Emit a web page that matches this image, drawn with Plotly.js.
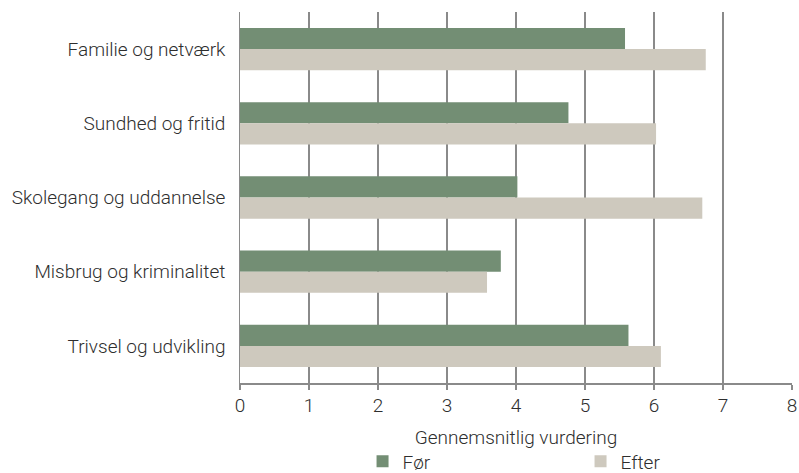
<!DOCTYPE html>
<html>
<head>
<meta charset="utf-8">
<script src="https://cdn.plot.ly/plotly-3.0.1.min.js"></script>
<style>html,body{margin:0;padding:0;background:#fff;}#chart{width:799px;height:473px;}</style>
</head>
<body>
<div id="chart"></div>
<script>
const categories = ["Familie og netværk", "Sundhed og fritid", "Skolegang og uddannelse", "Misbrug og kriminalitet", "Trivsel og udvikling"];
const forValues = [5.58, 4.76, 4.02, 3.78, 5.63];
const efterValues = [6.75, 6.03, 6.70, 3.58, 6.10];
const seriesNames = ["Før", "Efter"];
const xTicks = [0, 1, 2, 3, 4, 5, 6, 7, 8];

const fam = "Roboto, 'DejaVu Sans', sans-serif";
const txt = "#2e2e2e";

const traces = [
  {type: "bar", orientation: "h", name: seriesNames[0], y: categories, x: forValues,
   marker: {color: "#738E74"}},
  {type: "bar", orientation: "h", name: seriesNames[1], y: categories, x: efterValues,
   marker: {color: "#CEC9BE"}}
];

const layout = {
  width: 799, height: 473,
  margin: {l: 240, r: 7, t: 12, b: 90, pad: 0, autoexpand: false},
  paper_bgcolor: "#ffffff", plot_bgcolor: "#ffffff",
  font: {family: fam, size: 19, color: txt, weight: 300},
  barmode: "group",
  bargap: 0.43,
  bargroupgap: 0,
  showlegend: true,
  legend: {orientation: "h", x: 0.222, xanchor: "left", y: -0.16, yanchor: "top",
           entrywidth: 173, entrywidthmode: "pixels", itemwidth: 30,
           font: {family: fam, size: 19, color: txt, weight: 300}},
  xaxis: {
    range: [0, 8], tickvals: xTicks, ticktext: xTicks.map(String),
    showgrid: true, gridcolor: "#8a8a8a", gridwidth: 1.5,
    showline: true, linecolor: "#8a8a8a", linewidth: 1.5,
    ticks: "outside", ticklen: 5, tickcolor: "#8a8a8a", tickwidth: 1.5,
    tickfont: {family: fam, size: 19, color: txt, weight: 300},
    zeroline: false,
    title: {text: "Gennemsnitlig vurdering", standoff: 14,
            font: {family: fam, size: 19, color: txt, weight: 300}},
    automargin: false,
    fixedrange: true
  },
  yaxis: {
    type: "category", autorange: "reversed",
    showgrid: false, showline: true, linecolor: "#8a8a8a", linewidth: 1.5,
    ticks: "", ticksuffix: "  ",
    tickfont: {family: fam, size: 19, color: txt, weight: 300},
    automargin: false,
    fixedrange: true
  }
};

Plotly.newPlot("chart", traces, layout, {displayModeBar: false, staticPlot: true});
</script>
</body>
</html>
